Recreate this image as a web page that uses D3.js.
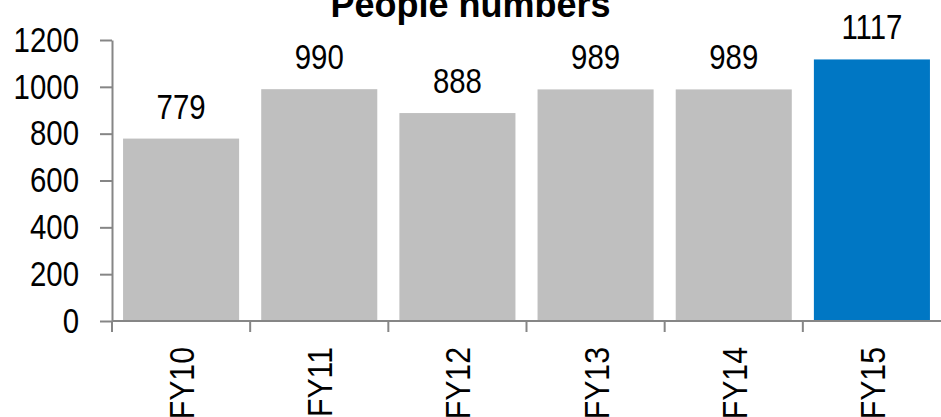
<!DOCTYPE html>
<html>
<head>
<meta charset="utf-8">
<script src="https://cdn.jsdelivr.net/npm/d3@7"></script>
<style>
  body { margin: 0; background: #fff; }
  svg text { font-family: "Liberation Sans", Arial, sans-serif; fill: #000; }
</style>
</head>
<body>
<div id="chart"></div>
<script>
var categories = ["FY10", "FY11", "FY12", "FY13", "FY14", "FY15"];
var values = [779, 990, 888, 989, 989, 1117];
var yTicks = [0, 200, 400, 600, 800, 1000, 1200];
var barColors = ["#bfbfbf", "#bfbfbf", "#bfbfbf", "#bfbfbf", "#bfbfbf", "#0077c4"];

var width = 941, height = 417;
var plotLeft = 112, plotRight = 941, plotTop = 40, plotBottom = 321;
var narrow = 0.84; // squeeze regular sans to look like the narrow face

var svg = d3.select("#chart").append("svg")
  .attr("width", width)
  .attr("height", height);

var x = d3.scaleBand()
  .domain(categories)
  .range([plotLeft, plotRight])
  .paddingInner(0.16)
  .paddingOuter(0.08);

var y = d3.scaleLinear()
  .domain([0, 1200])
  .range([plotBottom, plotTop]);

// title (clipped at top like the original)
svg.append("text")
  .attr("x", width / 2)
  .attr("y", 17)
  .attr("text-anchor", "middle")
  .style("font-size", "36px")
  .style("font-weight", "bold")
  .text("People numbers");

// bars
svg.selectAll("rect.bar")
  .data(values)
  .enter().append("rect")
   .attr("class", "bar")
   .attr("x", function(d, i) { return x(categories[i]); })
   .attr("y", function(d) { return y(d); })
   .attr("width", x.bandwidth())
   .attr("height", function(d) { return y(0) - y(d); })
   .attr("fill", function(d, i) { return barColors[i]; });

// value labels
svg.selectAll("text.val")
  .data(values)
  .enter().append("text")
   .attr("class", "val")
   .attr("transform", function(d, i) {
     return "translate(" + (x(categories[i]) + x.bandwidth() / 2) + "," + (y(d) - 20) + ") scale(" + narrow + ",1)";
   })
   .attr("text-anchor", "middle")
   .style("font-size", "35px")
   .text(function(d) { return d; });

// y axis
var yAxis = svg.append("g")
  .attr("transform", "translate(" + plotLeft + ",0)")
  .call(d3.axisLeft(y).tickValues(yTicks).tickFormat(d3.format("d"))
    .tickSizeInner(12).tickSizeOuter(0).tickPadding(20));
yAxis.select(".domain").attr("stroke", "#868686").attr("stroke-width", 2);
yAxis.selectAll(".tick line").attr("stroke", "#868686").attr("stroke-width", 2);
yAxis.selectAll(".tick text")
  .attr("x", -33 / narrow)
  .attr("transform", "scale(" + narrow + ",1)")
  .attr("fill", "#000")
  .style("font-size", "35px");

// x axis line with category boundary ticks
var xg = svg.append("g");
xg.append("line")
  .attr("x1", plotLeft).attr("x2", plotRight)
  .attr("y1", plotBottom).attr("y2", plotBottom)
  .attr("stroke", "#868686").attr("stroke-width", 2);
var bounds = categories.map(function(c) { return x(c) - x.step() * x.paddingInner() / 2; });
xg.selectAll("line.sep")
  .data(bounds)
  .enter().append("line")
   .attr("class", "sep")
   .attr("x1", function(d) { return d; }).attr("x2", function(d) { return d; })
   .attr("y1", plotBottom).attr("y2", plotBottom + 11)
   .attr("stroke", "#868686").attr("stroke-width", 2);

// rotated category labels
svg.selectAll("text.cat")
  .data(categories)
  .enter().append("text")
   .attr("class", "cat")
   .attr("transform", function(d) {
     return "translate(" + (x(d) + x.bandwidth() / 2 + 13) + "," + 347 + ") rotate(-90) scale(" + narrow + ",1)";
   })
   .attr("text-anchor", "end")
   .style("font-size", "36px")
   .text(function(d) { return d; });
</script>
</body>
</html>
